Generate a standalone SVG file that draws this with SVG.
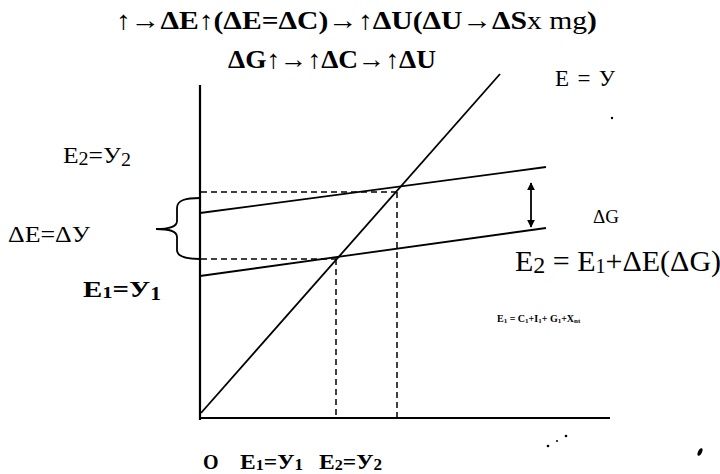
<svg xmlns="http://www.w3.org/2000/svg" width="720" height="474" viewBox="0 0 720 474">
<style>
text{font-family:"Liberation Serif","Times New Roman",serif;fill:#000}
.b{font-weight:bold}
.ln{stroke:#000;stroke-width:1.8;fill:none}
.ax{stroke:#000;stroke-width:2.2;fill:none}
.ds{stroke:#000;stroke-width:1.5;stroke-dasharray:6 4;fill:none}
</style>
<defs>
<marker id="ah" viewBox="0 0 10 10" refX="9" refY="5" markerWidth="4.5" markerHeight="5" orient="auto-start-reverse" markerUnits="strokeWidth">
<path d="M0,0 L10,5 L0,10 z" fill="#000"/>
</marker>
</defs>
<rect width="720" height="474" fill="#fff"/>
<g id="title">
<text class="b" x="116" y="29" font-size="26" textLength="481" lengthAdjust="spacingAndGlyphs">↑→ΔE↑(ΔE=ΔC)→↑ΔU(ΔU→ΔS<tspan font-weight="normal">x mg</tspan>)</text>
<text class="b" x="228" y="68" font-size="26" textLength="208" lengthAdjust="spacingAndGlyphs">ΔG↑→↑ΔC→↑ΔU</text>
</g>
<g id="axes">
<line class="ax" x1="200" y1="85" x2="200" y2="420"/>
<line class="ax" x1="199" y1="418" x2="610" y2="418"/>
</g>
<g id="connectors">
<line id="e-eq-y" class="ln" x1="201" y1="413" x2="500" y2="74"/>
<line id="e1" class="ln" x1="200" y1="276" x2="546" y2="228"/>
<line id="e2" class="ln" x1="200" y1="213" x2="546" y2="167"/>
<line class="ds" x1="201" y1="192" x2="397" y2="192"/>
<line class="ds" x1="397" y1="192" x2="397" y2="418"/>
<line class="ds" x1="201" y1="259" x2="336" y2="259"/>
<line class="ds" x1="336" y1="259" x2="336" y2="418"/>
<line class="ln" x1="531" y1="183" x2="531" y2="227" stroke-width="2.2" marker-start="url(#ah)" marker-end="url(#ah)"/>
<path id="brace" class="ln" d="M200,198 C186,198 177,200 177,208 L177,221 C177,227 170,229 156,229 C170,229 177,231 177,237 L177,250 C177,257 186,259 200,259"/>
</g>
<g id="labels">
<text x="555" y="86" font-size="23" textLength="60">E = У</text>
<text x="63" y="163" font-size="23" textLength="68" lengthAdjust="spacingAndGlyphs">E<tspan font-size="18" dy="2">2</tspan><tspan dy="-2">=У</tspan><tspan font-size="18" dy="3">2</tspan></text>
<text x="8" y="242" font-size="23" textLength="82" lengthAdjust="spacingAndGlyphs">ΔE=ΔУ</text>
<text x="83" y="297" font-size="24" font-weight="600" textLength="78" lengthAdjust="spacingAndGlyphs">E<tspan font-size="17" dy="1">1</tspan><tspan dy="-1">=У</tspan><tspan font-size="18" dy="3">1</tspan></text>
<text x="593" y="223" font-size="19">ΔG</text>
<text x="515" y="271" font-size="30">E<tspan font-size="24" dy="2">2</tspan><tspan dy="-2"> = E</tspan><tspan font-size="20" dy="2">1</tspan><tspan dy="-2">+ΔE(ΔG)</tspan></text>
<text class="b" x="497" y="322" font-size="10">E<tspan font-size="7" dy="1">1</tspan><tspan dy="-1"> = C</tspan><tspan font-size="7" dy="1">1</tspan><tspan dy="-1">+I</tspan><tspan font-size="7" dy="1">1</tspan><tspan dy="-1">+ G</tspan><tspan font-size="7" dy="1">1</tspan><tspan dy="-1">+X</tspan><tspan font-size="7" dy="1">nt</tspan></text>
<text class="b" x="203" y="469" font-size="20">O</text>
<text class="b" x="240" y="469" font-size="22" textLength="63" lengthAdjust="spacingAndGlyphs">E<tspan font-size="15" dy="1">1</tspan><tspan dy="-1">=У</tspan><tspan font-size="16" dy="1">1</tspan></text>
<text class="b" x="319" y="469" font-size="22" textLength="63" lengthAdjust="spacingAndGlyphs">E<tspan font-size="15" dy="1">2</tspan><tspan dy="-1">=У</tspan><tspan font-size="16" dy="1">2</tspan></text>
</g>
<g id="specks" fill="#000">
<ellipse cx="700" cy="452" rx="2" ry="4" transform="rotate(25 700 452)"/>
<circle cx="612" cy="118" r="1.2"/>
<circle cx="548" cy="446" r="1.3"/>
<circle cx="557" cy="441" r="1"/>
<circle cx="566" cy="436" r="1.3"/>
</g>
</svg>
